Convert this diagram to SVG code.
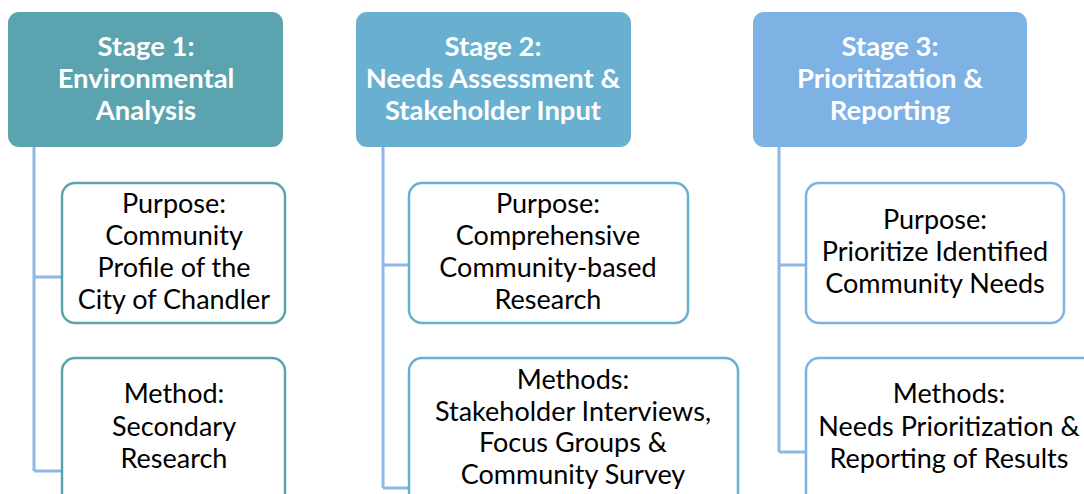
<svg xmlns="http://www.w3.org/2000/svg" width="1084" height="494" viewBox="0 0 1084 494">
  <style>
    .head text { font-family: Lato, "Open Sans", "Liberation Sans", sans-serif; font-weight: bold; font-size: 27.4px; fill: #ffffff; text-anchor: middle; }
    .item text { font-family: Lato, "Open Sans", "Liberation Sans", sans-serif; font-size: 27px; fill: #000000; text-anchor: middle; }
    .item rect { fill: #ffffff; stroke-width: 2.5; }
    .conn { fill: none; stroke: #8DB7E6; stroke-width: 3; }
  </style>
  <rect width="1084" height="494" fill="#ffffff"/>

  <!-- connectors -->
  <g id="connectors" class="conn">
    <path d="M34 147 V471 M34 277 H62 M34 471 H62"/>
    <path d="M383 147 V488 M383 265 H409 M383 488 H409"/>
    <path d="M779 147 V452 M779 265 H806 M779 452 H806"/>
  </g>

  <!-- stage 1 -->
  <g id="stage1" class="head">
    <rect x="8" y="12" width="275" height="135" rx="11" fill="#5BA3AE"/>
    <text x="146" y="56">Stage 1:</text>
    <text x="146" y="88">Environmental</text>
    <text x="146" y="120">Analysis</text>
  </g>
  <g id="stage1-purpose" class="item">
    <rect x="62" y="183" width="223" height="140" rx="13" stroke="#5BA3AE"/>
    <text x="174" y="213">Purpose:</text>
    <text x="174" y="245">Community</text>
    <text x="174" y="277">Profile of the</text>
    <text x="174" y="309">City of Chandler</text>
  </g>
  <g id="stage1-method" class="item">
    <rect x="62" y="358" width="223" height="150" rx="13" stroke="#5BA3AE"/>
    <text x="174" y="403">Method:</text>
    <text x="174" y="436">Secondary</text>
    <text x="174" y="468">Research</text>
  </g>

  <!-- stage 2 -->
  <g id="stage2" class="head">
    <rect x="356" y="12" width="275" height="135" rx="11" fill="#68AFD0"/>
    <text x="493" y="56">Stage 2:</text>
    <text x="493" y="88">Needs Assessment &amp;</text>
    <text x="493" y="120">Stakeholder Input</text>
  </g>
  <g id="stage2-purpose" class="item">
    <rect x="409" y="183" width="279" height="140" rx="13" stroke="#68AFD0"/>
    <text x="548" y="213">Purpose:</text>
    <text x="548" y="245">Comprehensive</text>
    <text x="548" y="277">Community-based</text>
    <text x="548" y="309">Research</text>
  </g>
  <g id="stage2-methods" class="item">
    <rect x="409" y="358" width="329" height="150" rx="13" stroke="#68AFD0"/>
    <text x="573" y="389">Methods:</text>
    <text x="573" y="421">Stakeholder Interviews,</text>
    <text x="573" y="452">Focus Groups &amp;</text>
    <text x="573" y="484">Community Survey</text>
  </g>

  <!-- stage 3 -->
  <g id="stage3" class="head">
    <rect x="753" y="12" width="274" height="135" rx="11" fill="#7EB2E5"/>
    <text x="890" y="56">Stage 3:</text>
    <text x="890" y="88">Prioritization &amp;</text>
    <text x="890" y="120">Reporting</text>
  </g>
  <g id="stage3-purpose" class="item">
    <rect x="806" y="183" width="258" height="140" rx="13" stroke="#7EB2E5"/>
    <text x="935" y="229">Purpose:</text>
    <text x="935" y="261">Prioritize Identified</text>
    <text x="935" y="293">Community Needs</text>
  </g>
  <g id="stage3-methods" class="item">
    <rect x="806" y="358" width="290" height="150" rx="13" stroke="#7EB2E5"/>
    <text x="949" y="403">Methods:</text>
    <text x="949" y="436">Needs Prioritization &amp;</text>
    <text x="949" y="468">Reporting of Results</text>
  </g>
</svg>
